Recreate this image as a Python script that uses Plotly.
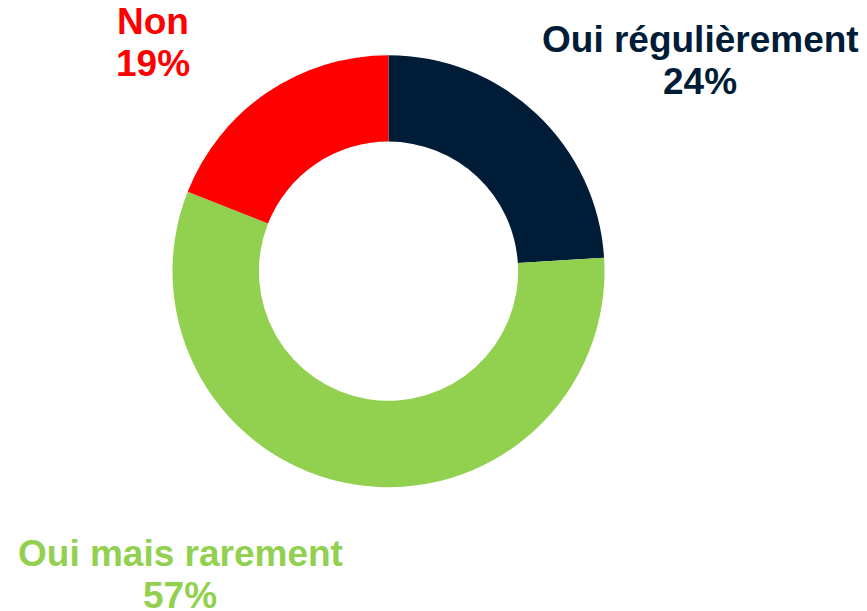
import plotly.graph_objs as go

# survey answers, clockwise from the top
labels = ['Oui régulièrement', 'Oui mais rarement', 'Non']
values = [24, 57, 19]
colors = ['#001C36', '#92D050', '#FF0000']

W, H = 867, 611
OFF = 8  # page body margin shifts the plot by 8px

# label centres in pixels (name line, percent line)
label_pos = [(700, 40, 82), (180, 553, 595), (153, 21, 63)]

fig = go.Figure()
fig.add_trace(go.Pie(
    labels=labels, values=values, hole=0.6,
    sort=False, direction='clockwise', rotation=0,
    marker=dict(colors=colors, line=dict(width=0)),
    textinfo='none', hoverinfo='label+percent',
    domain=dict(x=[(172.5 - OFF) / W, (604.5 - OFF) / W],
                y=[(123.8 + OFF) / H, (555.8 + OFF) / H]),
    showlegend=False,
))

font = 'Liberation Sans, Arial, sans-serif'
for lab, val, col, (px, py1, py2) in zip(labels, values, colors, label_pos):
    for txt, py in ((lab, py1), (f'{val}%', py2)):
        fig.add_annotation(
            text=f'<b>{txt}</b>', x=(px - OFF) / W, y=1 - (py - OFF) / H,
            xref='paper', yref='paper', xanchor='center', yanchor='middle',
            showarrow=False, font=dict(family=font, size=37, color=col),
        )

fig.update_layout(
    width=W, height=H, margin=dict(l=0, r=0, t=0, b=0),
    paper_bgcolor='white', plot_bgcolor='white',
)
fig.write_html('out.html')
